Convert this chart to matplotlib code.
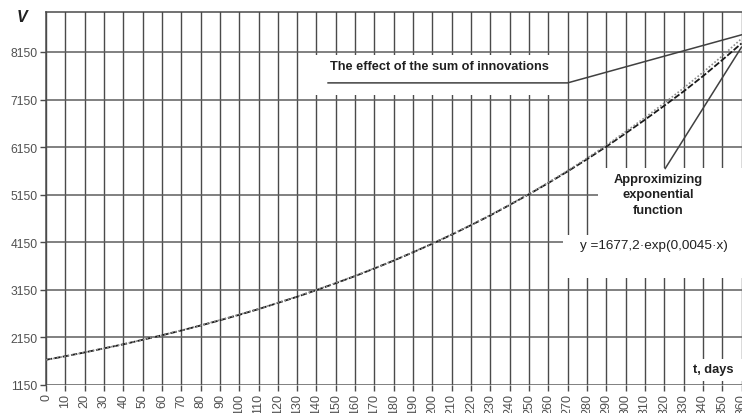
import matplotlib
matplotlib.use("Agg")
import matplotlib.pyplot as plt
from matplotlib.patches import Rectangle

plt.rcParams['font.family'] = ['Liberation Sans', 'DejaVu Sans']

days = list(range(0, 361, 10))
observed = [1680, 1755, 1835, 1920, 2005, 2100, 2195, 2295, 2400, 2510,
            2625, 2745, 2875, 3005, 3145, 3290, 3440, 3600, 3765, 3940,
            4120, 4310, 4510, 4715, 4935, 5160, 5395, 5640, 5895, 6160,
            6440, 6725, 7020, 7320, 7640, 7980, 8330]
approx = [1677, 1754, 1835, 1920, 2008, 2101, 2197, 2299, 2404, 2515,
          2631, 2752, 2878, 3011, 3150, 3295, 3446, 3605, 3771, 3945,
          4127, 4317, 4516, 4724, 4941, 5169, 5407, 5656, 5917, 6189,
          6474, 6770, 7075, 7390, 7720, 8065, 8430]
y_ticks = [1150, 2150, 3150, 4150, 5150, 6150, 7150, 8150]

W, H = 742, 414
fig = plt.figure(figsize=(W / 100, H / 100), dpi=100)
fig.patch.set_facecolor('white')
ax = fig.add_axes([46 / W, 1 - 386 / H, 695.5 / W, (386 - 13) / H])
ax.set_xlim(0, 360)
ax.set_ylim(1150, 8990)

grid_c = '#4a4a4a'
for d in days:
    ax.axvline(d, color=grid_c, lw=1.0, zorder=1)
for v in y_ticks:
    ax.axhline(v, color='#5e5e5e', lw=1.1, zorder=1)

def px_box(x0, y0, x1, y1):
    # white label background, in pixel coordinates (top-left origin)
    r = Rectangle((x0 / W, 1 - y1 / H), (x1 - x0) / W, (y1 - y0) / H,
                  transform=fig.transFigure, facecolor='white',
                  edgecolor='none', zorder=2)
    ax.add_artist(r)
    r.set_clip_on(False)

px_box(305, 56, 565, 96)
px_box(598, 169, 742, 236)
px_box(563, 236, 742, 279)
px_box(688, 360, 742, 382)

ax.plot(days, approx, color='#8a8a8a', lw=1.2, ls=(0, (1, 1.2)), zorder=4)
ax.plot(days, observed, color='#1a1a1a', lw=1.3, ls=(0, (3.5, 1.2)), zorder=3)

# leader lines
ax.plot([146, 270, 360], [7500, 7500, 8510], color='#404040', lw=1.1, zorder=5,
        clip_on=False)
ax.plot([320.5, 360], [5700, 8250], color='#404040', lw=1.1, zorder=5,
        clip_on=False)

ax.text(439 / W, 1 - 67 / H, 'The effect of the sum of innovations',
        transform=fig.transFigure, ha='center', va='center',
        fontsize=9.2, fontweight='bold', color='#202020', zorder=6)
ax.text(658 / W, 1 - 195.5 / H, 'Approximizing\nexponential\nfunction',
        transform=fig.transFigure, ha='center', va='center',
        fontsize=9.3, fontweight='bold', color='#202020', zorder=6,
        linespacing=1.4)
ax.text(654 / W, 1 - 246 / H, 'y =1677,2\u00b7exp(0,0045\u00b7x)',
        transform=fig.transFigure, ha='center', va='center',
        fontsize=9.7, color='#202020', zorder=6)
ax.text(713 / W, 1 - 370 / H, 't, days',
        transform=fig.transFigure, ha='center', va='center',
        fontsize=9.2, fontweight='bold', color='#202020', zorder=6)
ax.text(22 / W, 1 - 18 / H, 'V',
        transform=fig.transFigure, ha='center', va='center',
        fontsize=11.5, fontweight='bold', fontstyle='italic', color='#202020')

ax.set_xticks(days)
ax.set_xticklabels([str(d) for d in days], rotation=90, fontsize=9,
                   color='#505050')
ax.set_yticks(y_ticks)
ax.set_yticklabels([str(v) for v in y_ticks], fontsize=8.7, color='#505050')
ax.tick_params(axis='both', direction='out', length=4, width=1,
               color=grid_c, pad=2)
for side in ['left', 'top']:
    ax.spines[side].set_color(grid_c)
    ax.spines[side].set_linewidth(1.1)
ax.spines['right'].set_visible(False)
ax.spines['bottom'].set_visible(False)
ax.set_facecolor('white')

fig.savefig('out.png', dpi=100, facecolor='white')
